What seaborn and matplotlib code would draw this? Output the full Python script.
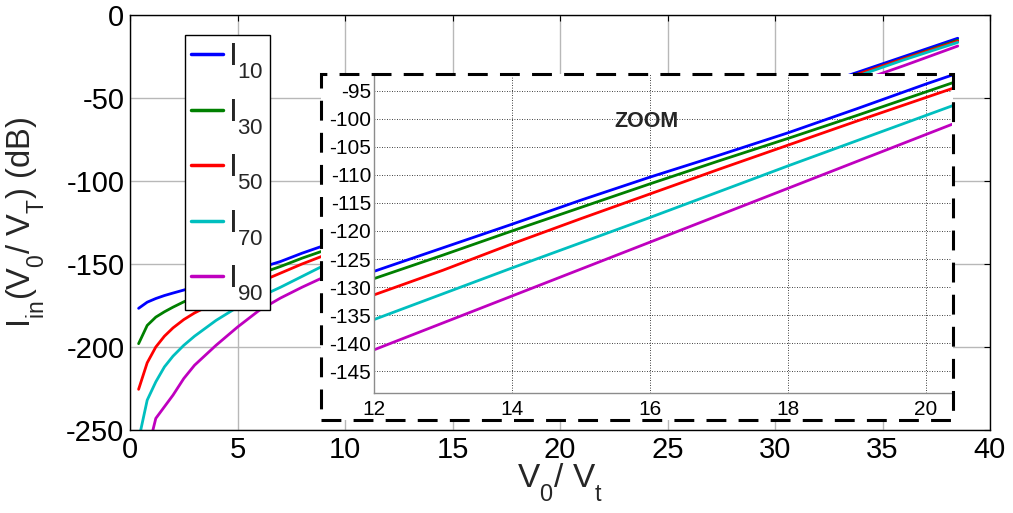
import matplotlib
matplotlib.use("Agg")
import numpy as np
import pandas as pd
import matplotlib.pyplot as plt
import seaborn as sns
from matplotlib.patches import Rectangle
from matplotlib.lines import Line2D

# deeper subscripts (MATLAB/TeX-like look)
try:
    import matplotlib._mathtext as _mt
    _mt.FontConstantsBase.sub1 = 0.8
except Exception:
    pass

# ---------------- data ----------------
x_vals = [0.4, 0.8, 1.2, 1.6, 2, 2.5, 3, 4, 5, 6, 7, 8, 9, 10, 11, 12, 13, 14, 15,
          16, 17, 18, 19, 20, 21, 22, 24, 26, 28, 30, 32, 34, 36, 38.5]

i10 = [-176.7, -173.0, -170.8, -169.0, -167.5, -165.7, -163.8, -160.0, -156.5, -152.5,
       -148.5, -143.5, -139.0, -135.0, -131.0, -127.2, -123.0, -118.8, -114.5, -110.4,
       -106.5, -102.5, -98.2, -93.8, -89.6, -85.4, -77.0, -68.4, -59.8, -51.2, -42.5,
       -33.8, -25.0, -14.0]
i30 = [-198.0, -187.0, -182.0, -178.8, -176.0, -172.8, -170.0, -165.0, -160.5, -156.0,
       -151.5, -146.5, -142.0, -137.5, -133.0, -128.5, -124.3, -120.0, -115.8, -111.6,
       -107.5, -103.5, -99.4, -95.2, -91.0, -86.7, -78.2, -69.6, -61.0, -52.4, -43.7,
       -35.0, -26.2, -15.2]
i50 = [-225.5, -209.5, -200.0, -193.5, -188.5, -183.5, -179.5, -173.0, -167.5, -161.0,
       -155.5, -150.0, -145.0, -140.0, -135.7, -131.4, -127.0, -122.3, -117.8, -113.4,
       -109.0, -104.7, -100.4, -96.2, -92.0, -87.6, -78.8, -70.0, -61.2, -52.4, -43.7,
       -35.0, -26.3, -15.8]
i70 = [-256.0, -232.0, -221.0, -212.0, -205.5, -199.0, -193.5, -184.0, -176.0, -170.0,
       -164.0, -157.5, -151.0, -145.5, -140.5, -135.8, -131.2, -126.6, -122.1, -117.6,
       -113.0, -108.4, -103.9, -99.4, -94.9, -90.4, -81.3, -72.2, -63.1, -54.0, -45.0,
       -36.0, -27.0, -16.5]
i90 = [-300.0, -264.0, -243.0, -236.0, -229.0, -219.0, -211.0, -199.0, -188.0, -178.0,
       -170.5, -164.0, -158.0, -152.5, -146.5, -141.2, -136.4, -131.6, -126.8, -122.0,
       -117.2, -112.4, -107.6, -102.8, -98.0, -93.3, -84.5, -75.5, -66.5, -57.5, -48.5,
       -39.5, -30.5, -18.7]

series_labels = ["I$_{10}$", "I$_{30}$", "I$_{50}$", "I$_{70}$", "I$_{90}$"]
series_values = [i10, i30, i50, i70, i90]
series_colors = ["#0000ff", "#008000", "#ff0000", "#00bfbf", "#bf00bf"]

main_xticks = [0, 5, 10, 15, 20, 25, 30, 35, 40]
main_yticks = [0, -50, -100, -150, -200, -250]
zoom_xticks = [12, 14, 16, 18, 20]
zoom_yticks = [-95, -100, -105, -110, -115, -120, -125, -130, -135, -140, -145]

df = pd.DataFrame({
    "x": x_vals * len(series_values),
    "y": np.concatenate(series_values),
    "series": np.repeat(series_labels, len(x_vals)),
})

# ---------------- style ----------------
sns.set_style("white")
plt.rcParams["font.family"] = ["Liberation Sans", "DejaVu Sans"]
plt.rcParams["mathtext.fontset"] = "custom"
plt.rcParams["mathtext.rm"] = "Liberation Sans"
plt.rcParams["mathtext.it"] = "Liberation Sans"
plt.rcParams["mathtext.bf"] = "Liberation Sans:bold"
plt.rcParams["mathtext.default"] = "regular"
plt.rcParams["axes.unicode_minus"] = False

fig = plt.figure(figsize=(10.13, 5.13), dpi=100)
fig.patch.set_facecolor("white")

# ---------------- main axes ----------------
ax = fig.add_axes([130 / 1013, 83 / 513, 860 / 1013, 415 / 513])
sns.lineplot(data=df, x="x", y="y", hue="series", hue_order=series_labels,
             palette=series_colors, linewidth=2.0, ax=ax, legend=False,
             estimator=None, sort=False)
ax.set_xlim(0, 40)
ax.set_ylim(-250, 0)
ax.set_xticks(main_xticks)
ax.set_yticks(main_yticks)
ax.set_axisbelow(True)
ax.grid(True, color="#b8b8b8", linewidth=1.0)
ax.tick_params(direction="in", length=4, width=0.8, top=True, right=True,
               labelsize=21, pad=4, colors="black")
for s in ax.spines.values():
    s.set_color("black")
    s.set_linewidth(1.0)
ax.set_xlabel("V$_0$/ V$_t$", fontsize=24)
ax.set_ylabel("I$_{in}$(V$_0$/ V$_T$) (dB)", fontsize=23.5)
ax.xaxis.set_label_coords(0.5, -0.075)
ax.yaxis.set_label_coords(-0.097, 0.5)

handles = [Line2D([0], [0], color=c, lw=2.5) for c in series_colors]
leg = ax.legend(handles, series_labels, loc="upper left",
                bbox_to_anchor=(55 / 860, 395 / 415), borderaxespad=0,
                fontsize=23, frameon=True, fancybox=False, framealpha=1,
                edgecolor="black", handlelength=1.0, handletextpad=0.15,
                borderpad=0.2, labelspacing=0.5)
leg.get_frame().set_linewidth(1.0)

# ---------------- white backing + dashed zoom box ----------------
box = [321 / 1013, 93 / 513, 632 / 1013, 346 / 513]
fig.add_artist(Rectangle((box[0], box[1]), box[2], box[3], transform=fig.transFigure,
                         facecolor="white", edgecolor="none", zorder=0.5))

# ---------------- inset axes ----------------
axin = fig.add_axes([374 / 1013, 120 / 513, 578 / 1013, 319 / 513])
axin.set_zorder(1)
axin.patch.set_alpha(0)
sns.lineplot(data=df, x="x", y="y", hue="series", hue_order=series_labels,
             palette=series_colors, linewidth=2.0, ax=axin, legend=False,
             estimator=None, sort=False)
axin.set_xlim(12, 20.38)
axin.set_ylim(-148.9, -92.0)
axin.set_xticks(zoom_xticks)
axin.set_yticks(zoom_yticks)
axin.set_axisbelow(True)
axin.grid(True, color="black", linewidth=0.6, linestyle=(0, (1, 2)))
axin.tick_params(direction="in", length=3, width=0.6, labelsize=15, pad=2,
                 colors="black")
axin.tick_params(axis="x", pad=5)
for k in ["top", "right"]:
    axin.spines[k].set_visible(False)
for k in ["left", "bottom"]:
    axin.spines[k].set_color("#8c8c8c")
    axin.spines[k].set_linewidth(1.0)
axin.set_xlabel("")
axin.set_ylabel("")
axin.text(0.472, 0.85, "ZOOM", transform=axin.transAxes, fontsize=15.5,
          fontweight="bold", ha="center", va="center")

fig.add_artist(Rectangle((box[0], box[1]), box[2], box[3], transform=fig.transFigure,
                         facecolor="none", edgecolor="black", linewidth=2.2,
                         linestyle=(0, (6.5, 4)), zorder=5))

fig.savefig("out.png", dpi=100, facecolor="white")
